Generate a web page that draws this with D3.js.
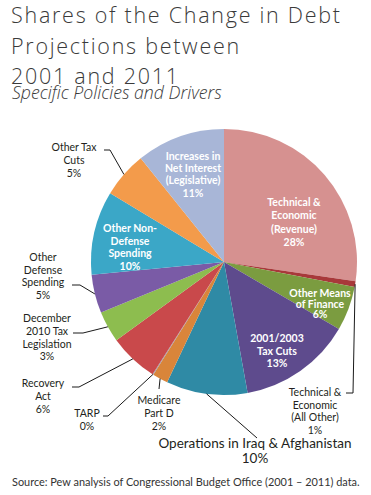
<!DOCTYPE html>
<html>
<head>
<meta charset="utf-8">
<script src="https://cdn.jsdelivr.net/npm/d3@7"></script>
<style>
  body { margin: 0; background: #fff; }
  svg { display: block; }
</style>
</head>
<body>
<div id="chart"></div>
<script>
// slice names, shares and printed labels
const categories = [
  'Technical & Economic (Revenue)', 'Technical & Economic (All Other)', 'Other Means of Finance',
  '2001/2003 Tax Cuts', 'Operations in Iraq & Afghanistan', 'Medicare Part D', 'TARP',
  'Recovery Act', 'December 2010 Tax Legislation', 'Other Defense Spending',
  'Other Non-Defense Spending', 'Other Tax Cuts', 'Increases in Net Interest (Legislative)'
];
const shares = [27.4, 0.7, 5.4, 13.8, 9.9, 1.9, 0.1, 6.0, 3.8, 4.7, 10.2, 5.6, 10.8];
const pctLabels = ['28%', '1%', '6%', '13%', '10%', '2%', '0%', '6%', '3%', '5%', '10%', '5%', '11%'];
const labelLines = [
  ['Technical  &', 'Economic', '(Revenue)'],
  ['Technical  &', 'Economic', '(All Other)'],
  ['Other Means', 'of Finance'],
  ['2001/2003', 'Tax Cuts'],
  ['Operations in Iraq & Afghanistan'],
  ['Medicare', 'Part D'],
  ['TARP'],
  ['Recovery', 'Act'],
  ['December', '2010 Tax', 'Legislation'],
  ['Other', 'Defense', 'Spending'],
  ['Other Non-', 'Defense', 'Spending'],
  ['Other Tax', 'Cuts'],
  ['Increases in', 'Net Interest', '(Legislative)']
];
const colors = ['#d69190', '#a8393a', '#7b9c40', '#5e4b8d', '#2f8aa5', '#d9853a', '#9a9aae',
  '#c9494b', '#8dbd4f', '#7a5ba6', '#3ba7c7', '#f39b4b', '#a8b6d7'];

// label layout: inside labels (white) or outside labels with a leader
const layout = [
  { inside: true, x: 294, y: 206, lh: 13.3 },
  { x: 315, y: 396, lh: 12.5, leader: [[346, 393], [353, 393]] },
  { inside: true, x: 320, y: 297, lh: 10.5 },
  { inside: true, x: 277, y: 342, lh: 12.5 },
  { x: 255, y: 448, lh: 15, big: true, leader: [[257, 438]] },
  { x: 159, y: 404, lh: 12.8, leader: [[159, 389]] },
  { x: 87, y: 417, lh: 12.5, leader: [[103, 416], [108, 416]] },
  { x: 43, y: 387, lh: 12.8, leader: [[72, 387], [79, 387]] },
  { x: 47, y: 322, lh: 12.8, leader: [[73, 333], [83, 333]] },
  { x: 43, y: 261, lh: 12.5, leader: [[72, 285], [80, 285]] },
  { inside: true, x: 130, y: 232, lh: 12.7 },
  { x: 74, y: 151, lh: 12.8, leader: [[104, 150], [110, 150]] },
  { inside: true, x: 193, y: 160, lh: 12.2 }
];

const W = 371, H = 495;
const cx = 224, cy = 262, R = 133;

const svg = d3.select('#chart').append('svg')
  .attr('width', W)
  .attr('height', H);

// scale a text's font size so it spans a target width
const fitSize = (sel, target) => {
  const w = sel.node().getComputedTextLength();
  const fs = parseFloat(sel.style('font-size'));
  sel.style('font-size', (fs * target / w) + 'px');
};

// titles: fixed size, letter spacing taken from the first line's width
const titleLines = ['Shares of the Change in Debt', 'Projections between', '2001 and 2011'];
const titleBase = [23, 54, 84];
const titleFont = "'Open Sans', Lato, sans-serif";
let spacing = 0;
titleLines.forEach((line, i) => {
  const t = svg.append('text')
    .attr('x', 11).attr('y', titleBase[i])
    .style('font-family', titleFont).style('font-weight', 300)
    .style('font-size', '21.5px').style('fill', '#3a3a3a')
    .text(line);
  if (i === 0) {
    spacing = (329 - t.node().getComputedTextLength()) / (line.length - 1);
  }
  t.style('letter-spacing', spacing + 'px');
});
const sub = svg.append('text')
  .attr('x', 12).attr('y', 99)
  .style('font-family', titleFont).style('font-style', 'italic').style('font-weight', 300)
  .style('font-size', '15px').style('fill', '#3a3a3a')
  .text('Specific Policies and Drivers');
fitSize(sub, 210);

// pie
const pie = d3.pie().sort(null).value(d => d);
const arc = d3.arc().innerRadius(0).outerRadius(R);
const arcs = pie(shares);

const g = svg.append('g').attr('transform', `translate(${cx},${cy})`);
g.selectAll('path')
  .data(arcs)
  .enter()
  .append('path')
  .attr('d', arc)
  .attr('fill', (d, i) => colors[i]);

// point on the rim at a slice's middle angle
const rimPoint = (d) => {
  const a = (d.startAngle + d.endAngle) / 2;
  return [cx + R * Math.sin(a), cy - R * Math.cos(a)];
};

const labelFont = "Lato, 'Open Sans', sans-serif";

arcs.forEach((d, i) => {
  const L = layout[i];
  const lines = [...labelLines[i], pctLabels[i]];

  if (L.leader) {
    const pts = [...L.leader, rimPoint(d)];
    svg.append('path')
      .attr('d', d3.line()(pts))
      .attr('fill', 'none')
      .attr('stroke', '#1a1a1a')
      .attr('stroke-width', 1);
  }

  const txt = svg.append('text')
    .attr('text-anchor', 'middle')
    .style('font-family', labelFont)
    .style('font-size', L.big ? '13.5px' : '10.5px')
    .style('font-weight', L.inside ? 700 : 400)
    .style('fill', L.inside ? '#ffffff' : '#231f20');

  lines.forEach((line, j) => {
    txt.append('tspan')
      .attr('x', L.x)
      .attr('y', L.y + j * L.lh)
      .text(line);
  });
});

// source note
const src = svg.append('text')
  .attr('x', 12).attr('y', 486)
  .style('font-family', labelFont).style('font-weight', 400)
  .style('font-size', '10.5px').style('fill', '#333')
  .text('Source: Pew analysis of Congressional Budget Office (2001 \u2013 2011) data.');
fitSize(src, 348);
</script>
</body>
</html>
